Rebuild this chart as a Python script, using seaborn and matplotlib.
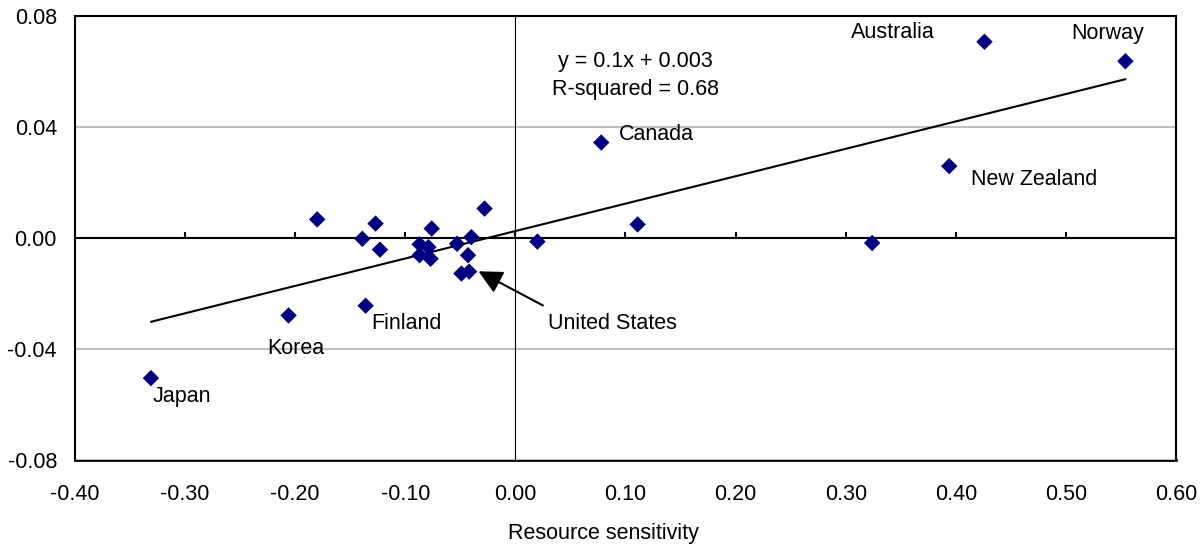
"""
plot.py - resource sensitivity scatter with fitted trend line
"""

import numpy as np
import pandas as pd
import matplotlib
matplotlib.use('Agg')
import matplotlib.pyplot as plt
import seaborn as sns

# Values
countries = ['Japan', 'Korea', 'Finland', 'United States', 'Canada', 'Australia',
             'Norway', 'New Zealand', '', '', '', '', '', '', '', '', '', '', '', '',
             '', '', '', '', '']
sensitivity = [-0.331, -0.206, -0.136, -0.042, 0.078, 0.426,
               0.554, 0.394, 0.324, 0.111, 0.020, -0.180, -0.127, -0.139, -0.123,
               -0.028, -0.076, -0.087, -0.079, -0.087, -0.077, -0.053, -0.040,
               -0.043, -0.049]
outcome = [-0.0505, -0.0279, -0.0244, -0.0121, 0.0344, 0.0707,
           0.0637, 0.0259, -0.0018, 0.0049, -0.0013, 0.0067, 0.0052, -0.0003, -0.0042,
           0.0106, 0.0034, -0.0023, -0.0033, -0.0062, -0.0075, -0.0021, 0.0003,
           -0.0062, -0.0128]

x_ticks = [-0.4, -0.3, -0.2, -0.1, 0.0, 0.1, 0.2, 0.3, 0.4, 0.5, 0.6]
y_ticks = [-0.08, -0.04, 0.0, 0.04, 0.08]
fit_text = 'y = 0.1x + 0.003\nR-squared = 0.68'
x_title = 'Resource sensitivity'

# label offsets in points, relative to the point
label_pos = {
    'Japan': (1, -13.5, 'left'),
    'Korea': (5, -23.5, 'center'),
    'Finland': (4, -13, 'left'),
    'United States': (57, -37.5, 'left'),
    'Canada': (13, 6, 'left'),
    'Australia': (-36, 6.5, 'right'),
    'Norway': (-13, 20, 'center'),
    'New Zealand': (16, -9.5, 'left'),
}

df = pd.DataFrame({'country': countries, 'x': sensitivity, 'y': outcome})

sns.set_theme(style='white')
plt.rcParams['font.family'] = ['Liberation Sans', 'DejaVu Sans']
for key in ['text.color', 'axes.labelcolor', 'xtick.color', 'ytick.color']:
    plt.rcParams[key] = 'black'
FS = 15.5

fig = plt.figure(figsize=(12.03, 5.46), dpi=100)
ax = fig.add_axes([0.0623, 0.1575, 0.9153, 0.8132])

# gridlines and reference lines
ax.set_yticks(y_ticks)
ax.yaxis.grid(True, color='#c0c0c0', lw=1.5)
ax.xaxis.grid(False)
ax.set_axisbelow(True)
ax.axvline(0, color='black', lw=0.8, zorder=1)

# trend line and points
sns.regplot(data=df, x='x', y='y', scatter=False, ci=None, ax=ax,
            line_kws={'color': 'black', 'lw': 1.5})
sns.scatterplot(data=df, x='x', y='y', marker='D', color='#000080', s=70,
                edgecolor='none', ax=ax, zorder=3)

for _, row in df.iterrows():
    if row['country'] in label_pos:
        dx, dy, ha = label_pos[row['country']]
        ax.annotate(row['country'], (row['x'], row['y']), xytext=(dx, dy),
                    textcoords='offset points', ha=ha, va='center', fontsize=FS)

# arrow pointing at the United States
us = df[df['country'] == 'United States'].iloc[0]
ax.annotate('', xy=(us['x'] + 0.0085, us['y'] + 0.0001),
            xytext=(us['x'] + 0.067, us['y'] - 0.0122),
            arrowprops=dict(arrowstyle='-|>,head_length=1.2,head_width=0.6',
                            color='black', lw=1.5, shrinkA=0, shrinkB=0))

ax.text(0.509, 0.866, fit_text, transform=ax.transAxes, ha='center', va='center',
        fontsize=FS, linespacing=1.45)

ax.set_xlim(-0.4, 0.6)
ax.set_ylim(-0.08, 0.08)

# zero line carries the small upward ticks, like the original
ax.spines['bottom'].set_position(('data', 0))
ax.set_xticks(x_ticks)
ax.tick_params(axis='x', direction='in', length=4, width=1.5, color='black',
               labelbottom=False, bottom=True)
ax.tick_params(axis='y', length=0, labelsize=FS, pad=13)
ax.set_yticklabels([f'{v:.2f}' for v in y_ticks])
for side in ['left', 'right', 'top', 'bottom']:
    ax.spines[side].set_color('black')
    ax.spines[side].set_linewidth(1.5)

# labels along the frame bottom
secax = ax.secondary_xaxis('bottom')
secax.set_xticks(x_ticks)
secax.set_xticklabels([f'{v:.2f}' for v in x_ticks])
secax.tick_params(axis='x', length=0, labelsize=FS, pad=17)
secax.spines['bottom'].set_color('black')
secax.spines['bottom'].set_linewidth(2)

ax.set_xlabel('')
ax.set_ylabel('')
fig.text(603 / 1203, 1 - 533 / 546, x_title, ha='center', va='center', fontsize=FS)

fig.savefig('out.png', dpi=100)
